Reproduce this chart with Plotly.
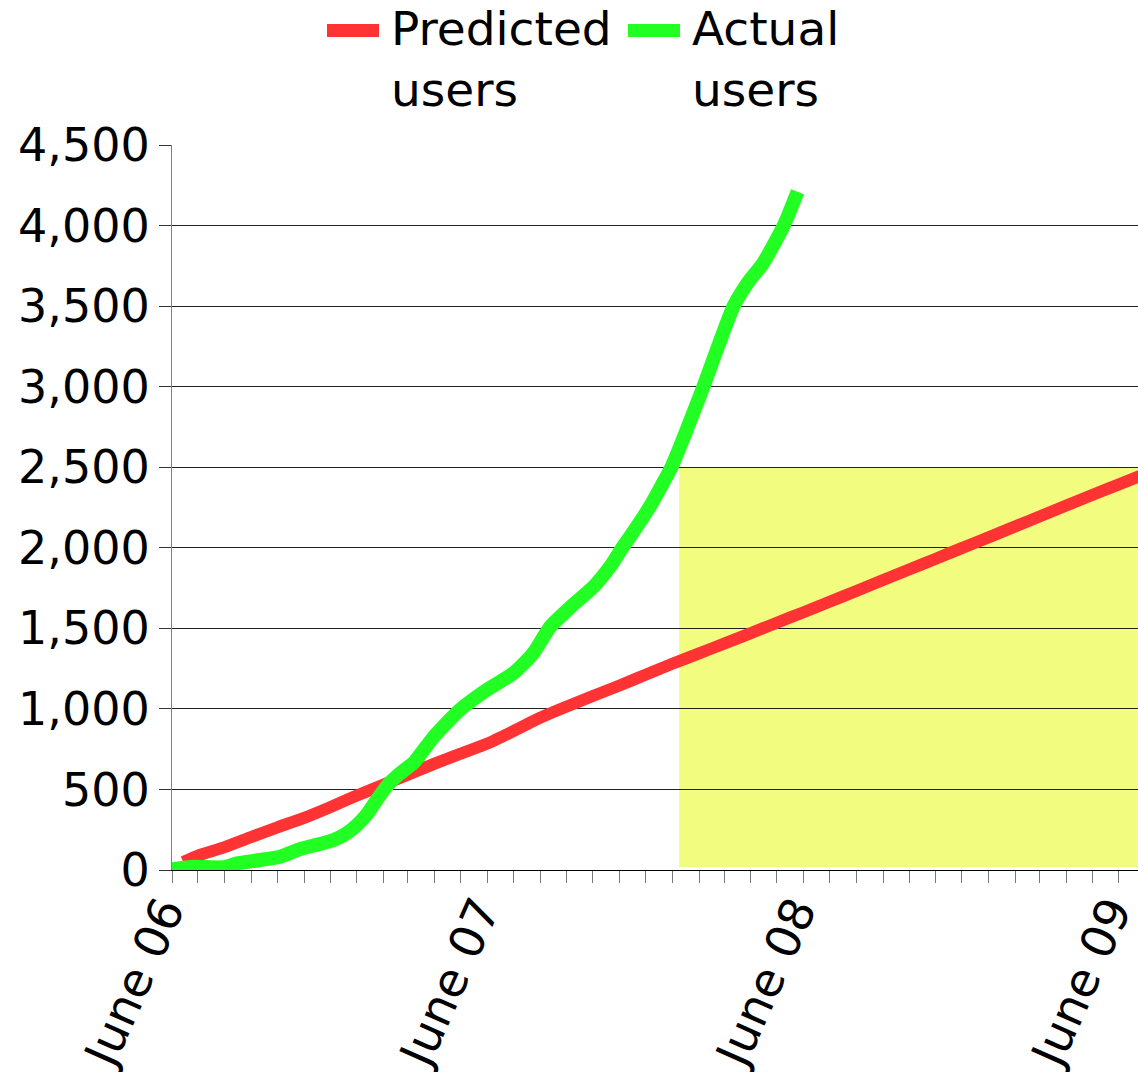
import plotly.graph_objects as go

# ---- data ----
pred_dates = ["2006-06-14", "2006-07-01", "2006-08-01", "2006-09-01", "2006-10-01", "2006-11-01",
              "2006-12-01", "2007-01-01", "2007-02-01", "2007-03-01", "2007-04-01", "2007-05-01",
              "2007-06-01", "2007-07-01", "2007-08-01", "2007-09-01", "2007-10-01", "2007-11-01",
              "2007-12-01", "2008-01-01", "2008-02-01", "2008-03-01", "2008-04-01", "2008-05-01",
              "2008-06-01", "2008-07-01", "2008-08-01", "2008-09-01", "2008-10-01", "2008-11-01",
              "2008-12-01", "2009-01-01", "2009-02-01", "2009-03-01", "2009-04-01", "2009-05-01",
              "2009-06-01", "2009-07-01"]
pred_users = [50, 90, 142, 205, 265, 324,
              390, 462, 530, 592, 660, 722,
              785, 862, 945, 1015, 1080, 1145,
              1212, 1280, 1345, 1405, 1470, 1535,
              1600, 1665, 1732, 1800, 1865, 1932,
              1998, 2065, 2133, 2194, 2262, 2328,
              2393, 2458]

actual_dates = ["2006-06-01", "2006-06-26", "2006-07-31", "2006-08-15", "2006-09-11", "2006-10-04",
                "2006-10-27", "2006-11-19", "2006-12-05", "2006-12-20", "2007-01-01", "2007-01-13",
                "2007-01-24", "2007-02-05", "2007-02-20", "2007-03-08", "2007-03-31", "2007-04-30",
                "2007-05-31", "2007-07-01", "2007-07-24", "2007-08-13", "2007-09-08", "2007-10-02",
                "2007-10-21", "2007-11-05", "2007-11-21", "2007-12-06", "2007-12-19", "2007-12-31",
                "2008-01-19", "2008-02-06", "2008-02-23", "2008-03-12", "2008-03-29", "2008-04-15",
                "2008-05-09", "2008-05-25"]
actual_users = [5, 20, 17, 41, 62, 83,
                130, 161, 186, 228, 279, 348,
                435, 523, 600, 668, 827, 993,
                1117, 1221, 1345, 1511, 1645, 1759,
                1883, 2007, 2131, 2255, 2380, 2500,
                2750, 3000, 3250, 3500, 3650, 3766,
                4000, 4210]

# monthly tick positions, labelled only in June
tick_dates = ["2006-06-01", "2006-07-01", "2006-08-01", "2006-09-01", "2006-10-01", "2006-11-01",
              "2006-12-01", "2007-01-01", "2007-02-01", "2007-03-01", "2007-04-01", "2007-05-01",
              "2007-06-01", "2007-07-01", "2007-08-01", "2007-09-01", "2007-10-01", "2007-11-01",
              "2007-12-01", "2008-01-01", "2008-02-01", "2008-03-01", "2008-04-01", "2008-05-01",
              "2008-06-01", "2008-07-01", "2008-08-01", "2008-09-01", "2008-10-01", "2008-11-01",
              "2008-12-01", "2009-01-01", "2009-02-01", "2009-03-01", "2009-04-01", "2009-05-01",
              "2009-06-01"]
tick_text = ["June 06"] + [""] * 11 + ["June 07"] + [""] * 11 + ["June 08"] + [""] * 11 + ["June 09"]

y_ticks = [0, 500, 1000, 1500, 2000, 2500, 3000, 3500, 4000, 4500]

series_names = ["Predicted<br>users", "Actual<br>users"]
series_colors = ["#ff3333", "#22ff22"]

highlight_start = "2008-01-09"
highlight_end = "2009-12-31"
highlight_low = 18
highlight_high = 2500

FONT = "DejaVu Sans"
W, H = 1138, 1072
ML, MR, MT, MB = 172, 0, 145, 202
PW, PH = W - ML - MR, H - MT - MB


def px_x(p):
    return (p - ML) / PW


def px_y(p):
    return 1 - (p - MT) / PH


fig = go.Figure()
fig.add_trace(go.Scatter(x=pred_dates, y=pred_users, mode="lines",
                         name=series_names[0], showlegend=False,
                         line=dict(color=series_colors[0], width=12, shape="spline", smoothing=0.6)))
fig.add_trace(go.Scatter(x=actual_dates, y=actual_users, mode="lines",
                         name=series_names[1], showlegend=False,
                         line=dict(color=series_colors[1], width=14, shape="spline", smoothing=0.6)))

fig.add_shape(type="rect", xref="x", yref="y",
              x0=highlight_start, x1=highlight_end, y0=highlight_low, y1=highlight_high,
              fillcolor="#f2fd80", line=dict(width=0), layer="below")

# legend drawn as symbol lines + text
legend_sym_x = [(327, 379), (628, 680)]
legend_text_x = [390, 691]
for i in range(2):
    fig.add_shape(type="line", xref="paper", yref="paper",
                  x0=px_x(legend_sym_x[i][0]), x1=px_x(legend_sym_x[i][1]),
                  y0=px_y(30.5), y1=px_y(30.5),
                  line=dict(color=series_colors[i], width=13))
    fig.add_annotation(xref="paper", yref="paper", x=px_x(legend_text_x[i]), y=px_y(0),
                       xanchor="left", yanchor="top", align="left", showarrow=False,
                       text=series_names[i], font=dict(size=47, family=FONT, color="black"),
                       borderpad=0)

fig.update_layout(
    width=W, height=H,
    margin=dict(l=ML, r=MR, t=MT, b=MB),
    paper_bgcolor="white", plot_bgcolor="white",
    font=dict(family=FONT, size=48, color="black"),
    showlegend=False,
    xaxis=dict(range=["2006-06-01", "2009-06-23"], type="date",
               tickmode="array", tickvals=tick_dates, ticktext=tick_text,
               tickangle=-66, ticks="outside", ticklen=12, tickcolor="#777777", tickwidth=1,
               showgrid=False, showline=True, linecolor="black", linewidth=1,
               zeroline=False, tickfont=dict(size=47), automargin=False,
               ticklabelstandoff=-18, ticklabelshift=-8, ticklabeloverflow="allow"),
    yaxis=dict(range=[0, 4500], tickmode="array", tickvals=y_ticks,
               tickformat=",d", ticks="outside", ticklen=12, tickcolor="#333333",
               showgrid=True, gridcolor="#222222", gridwidth=1,
               showline=True, linecolor="#808080", linewidth=1, zeroline=False,
               ticklabelstandoff=0, tickfont=dict(size=46), automargin=False),
    separators=".,",
)

fig.write_html("out.html", config={"displayModeBar": False},
               post_script="document.body.style.margin='0px';document.body.style.overflow='hidden';")
